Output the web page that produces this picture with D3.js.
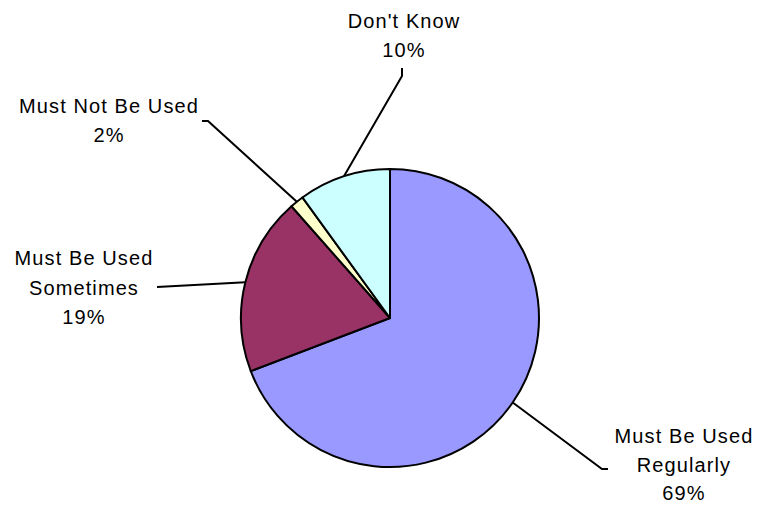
<!DOCTYPE html>
<html>
<head>
<meta charset="utf-8">
<script src="https://cdn.jsdelivr.net/npm/d3@7"></script>
<style>
  html, body { margin: 0; padding: 0; background: #fff; }
  svg { display: block; }
  text { font-family: "Liberation Sans", Arial, sans-serif; font-size: 20px; fill: #000; letter-spacing: 1.1px; }
</style>
</head>
<body>
<svg id="chart" width="758" height="506"></svg>
<script>
// ---- data ----
const categories = ["Must Be Used Regularly", "Must Be Used Sometimes", "Must Not Be Used", "Don't Know"];
const labelLines = [["Must Be Used", "Regularly"], ["Must Be Used", "Sometimes"], ["Must Not Be Used"], ["Don't Know"]];
const values = [69.2, 19.3, 1.5, 10.0];
const colors = ["#9999FF", "#993366", "#FFFFCC", "#CCFFFF"];

// ---- layout ----
const W = 758, H = 506;
const cx = 390, cy = 318, R = 149;
const lineH = 29;
// label anchor (center x, first baseline) and leader elbow/end points
const labelPos = [
  { x: 684, y: 443, lh: 28.5, elbow: [602, 469], end: [608, 469] },
  { x: 84,  y: 265, lh: 29.5, elbow: [157, 287], end: [157, 287] },
  { x: 109, y: 113, lh: 29,   elbow: [208, 121], end: [202, 121] },
  { x: 404, y: 28,  lh: 29,   elbow: [402, 76],  end: [402, 68] }
];

const svg = d3.select("#chart");
const total = d3.sum(values);
const data = categories.map((c, i) => ({ name: c, value: values[i], i }));

const pie = d3.pie().value(d => d.value).sort(null);
const arcs = pie(data);
const arc = d3.arc().innerRadius(0).outerRadius(R);

const g = svg.append("g").attr("transform", `translate(${cx},${cy})`);
g.selectAll("path.slice")
  .data(arcs)
  .join("path")
  .attr("class", "slice")
  .attr("d", arc)
  .attr("fill", d => colors[d.data.i])
  .attr("stroke", "#000")
  .attr("stroke-width", 2)
  .attr("stroke-linejoin", "round");

// leader lines
const line = d3.line();
arcs.forEach(a => {
  const mid = (a.startAngle + a.endAngle) / 2;
  const p0 = [cx + Math.sin(mid) * R, cy - Math.cos(mid) * R];
  const lp = labelPos[a.data.i];
  svg.append("path")
    .attr("d", line([p0, lp.elbow, lp.end]))
    .attr("fill", "none")
    .attr("stroke", "#000")
    .attr("stroke-width", 2);
});

// labels
arcs.forEach(a => {
  const i = a.data.i;
  const lp = labelPos[i];
  const lines = labelLines[i].concat([Math.round(a.data.value / total * 100) + "%"]);
  const t = svg.append("text").attr("text-anchor", "middle");
  lines.forEach((s, k) => {
    t.append("tspan").attr("x", lp.x).attr("y", lp.y + k * lp.lh).text(s);
  });
});
</script>
</body>
</html>
